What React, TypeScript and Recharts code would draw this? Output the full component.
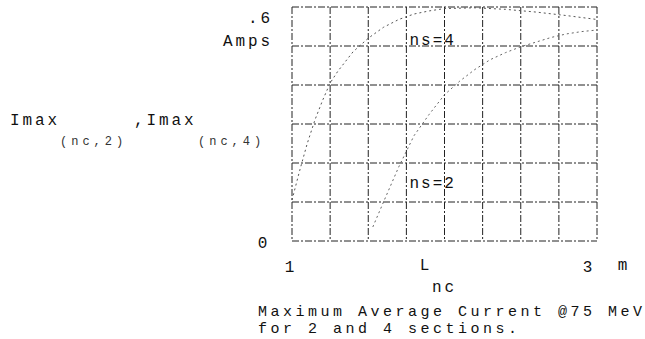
import { LineChart, Line, XAxis, YAxis, CartesianGrid, ReferenceDot, Label } from 'recharts';

// section length L_nc (m) and Imax (A)
const lengthNs4 = [1.0, 1.05, 1.1, 1.15, 1.2, 1.25, 1.3, 1.4, 1.5, 1.6, 1.7, 1.8, 1.9, 2.0, 2.2, 2.4, 2.6, 2.8, 3.0];
const imaxNs4 = [0.105, 0.18, 0.25, 0.31, 0.36, 0.405, 0.435, 0.485, 0.52, 0.548, 0.568, 0.582, 0.59, 0.596, 0.598, 0.594, 0.587, 0.578, 0.568];

const lengthNs2 = [1.53, 1.6, 1.7, 1.8, 1.9, 2.0, 2.1, 2.2, 2.3, 2.4, 2.5, 2.6, 2.7, 2.8, 2.9, 3.0];
const imaxNs2 = [0.036, 0.1, 0.19, 0.27, 0.325, 0.375, 0.41, 0.44, 0.465, 0.483, 0.498, 0.51, 0.522, 0.531, 0.537, 0.541];

const xTicks = [1, 1.25, 1.5, 1.75, 2, 2.25, 2.5, 2.75, 3];
const yTicks = [0, 0.1, 0.2, 0.3, 0.4, 0.5, 0.6];

const FONT = '"Liberation Mono", "DejaVu Sans Mono", monospace';
const INK = '#111';

const ns4Data = lengthNs4.map((l, i) => ({ length: l, imax: imaxNs4[i] }));
const ns2Data = lengthNs2.map((l, i) => ({ length: l, imax: imaxNs2[i] }));

const txt = { fontFamily: FONT, fontSize: 16, letterSpacing: 2.9, fill: INK };
const cap = { fontFamily: FONT, fontSize: 15, letterSpacing: 3.5, fill: INK };
const sub = { fontFamily: FONT, fontSize: 12, letterSpacing: 4, fill: '#333' };

function XTick(props: any) {
  const { x, y, payload } = props;
  if (payload.value === 1) return <text x={x - 1} y={y + 31} textAnchor="middle" {...txt}>1</text>;
  if (payload.value === 3) return <text x={x - 8} y={y + 31} textAnchor="middle" {...txt}>3</text>;
  return <g />;
}

function YTick(props: any) {
  const { x, y, payload } = props;
  if (payload.value === 0) return <text x={x - 28} y={y + 7} textAnchor="middle" {...txt}>0</text>;
  if (payload.value === 0.6)
    return (
      <g>
        <text x={x - 19} y={y + 16} textAnchor="end" {...txt}>.6</text>
        <text x={x - 19} y={y + 39} textAnchor="end" {...txt}>Amps</text>
      </g>
    );
  return <g />;
}

function XTitle(props: any) {
  const { x, y, width } = props.viewBox;
  return (
    <g>
      <text x={x + 134} y={y + 29} textAnchor="middle" {...txt}>L</text>
      <text x={x + width + 27} y={y + 29} textAnchor="middle" {...txt}>m</text>
      <text x={x + 140} y={y + 51} {...txt}>nc</text>
      <text x={x - 34} y={y + 75} {...cap}>Maximum Average Current @75 MeV</text>
      <text x={x - 34} y={y + 92} {...cap}>for 2 and 4 sections.</text>
    </g>
  );
}

function YTitle() {
  return (
    <g>
      <text x={10} y={125} {...txt}>Imax</text>
      <text x={60} y={145} {...sub}>(nc,2)</text>
      <text x={134} y={125} {...txt}>,Imax</text>
      <text x={198} y={145} {...sub}>(nc,4)</text>
    </g>
  );
}

function CurveTag(text: string) {
  return (props: any) => {
    const { x, y } = props.viewBox;
    return <text x={x} y={y + 5} {...txt} letterSpacing={2}>{text}</text>;
  };
}

export default function App() {
  return (
    <div style={{ position: 'absolute', left: 0, top: 0, background: '#fff' }}>
      <LineChart width={645} height={339} margin={{ top: 7, right: 48, bottom: 68, left: 232 }}>
        <CartesianGrid stroke="#222" strokeDasharray="7 2 2 2" />
        <XAxis
          type="number"
          dataKey="length"
          domain={[1, 3]}
          ticks={xTicks}
          height={30}
          axisLine={false}
          tickLine={false}
          tickSize={0}
          tickMargin={0}
          tick={<XTick />}
          interval={0}
        >
          <Label content={<XTitle />} />
        </XAxis>
        <YAxis
          type="number"
          domain={[0, 0.6]}
          ticks={yTicks}
          width={60}
          axisLine={false}
          tickLine={false}
          tickSize={0}
          tickMargin={0}
          tick={<YTick />}
          interval={0}
        >
          <Label content={<YTitle />} />
        </YAxis>
        <Line
          data={ns4Data}
          dataKey="imax"
          type="linear"
          stroke="#555"
          strokeWidth={1}
          strokeDasharray="2 3"
          dot={false}
          isAnimationActive={false}
        />
        <Line
          data={ns2Data}
          dataKey="imax"
          type="linear"
          stroke="#666"
          strokeWidth={1}
          strokeDasharray="2 3"
          dot={false}
          isAnimationActive={false}
        />
        <ReferenceDot x={1.77} y={0.515} r={0} stroke="none" label={CurveTag('ns=4')} />
        <ReferenceDot x={1.77} y={0.148} r={0} stroke="none" label={CurveTag('ns=2')} />
      </LineChart>
    </div>
  );
}
